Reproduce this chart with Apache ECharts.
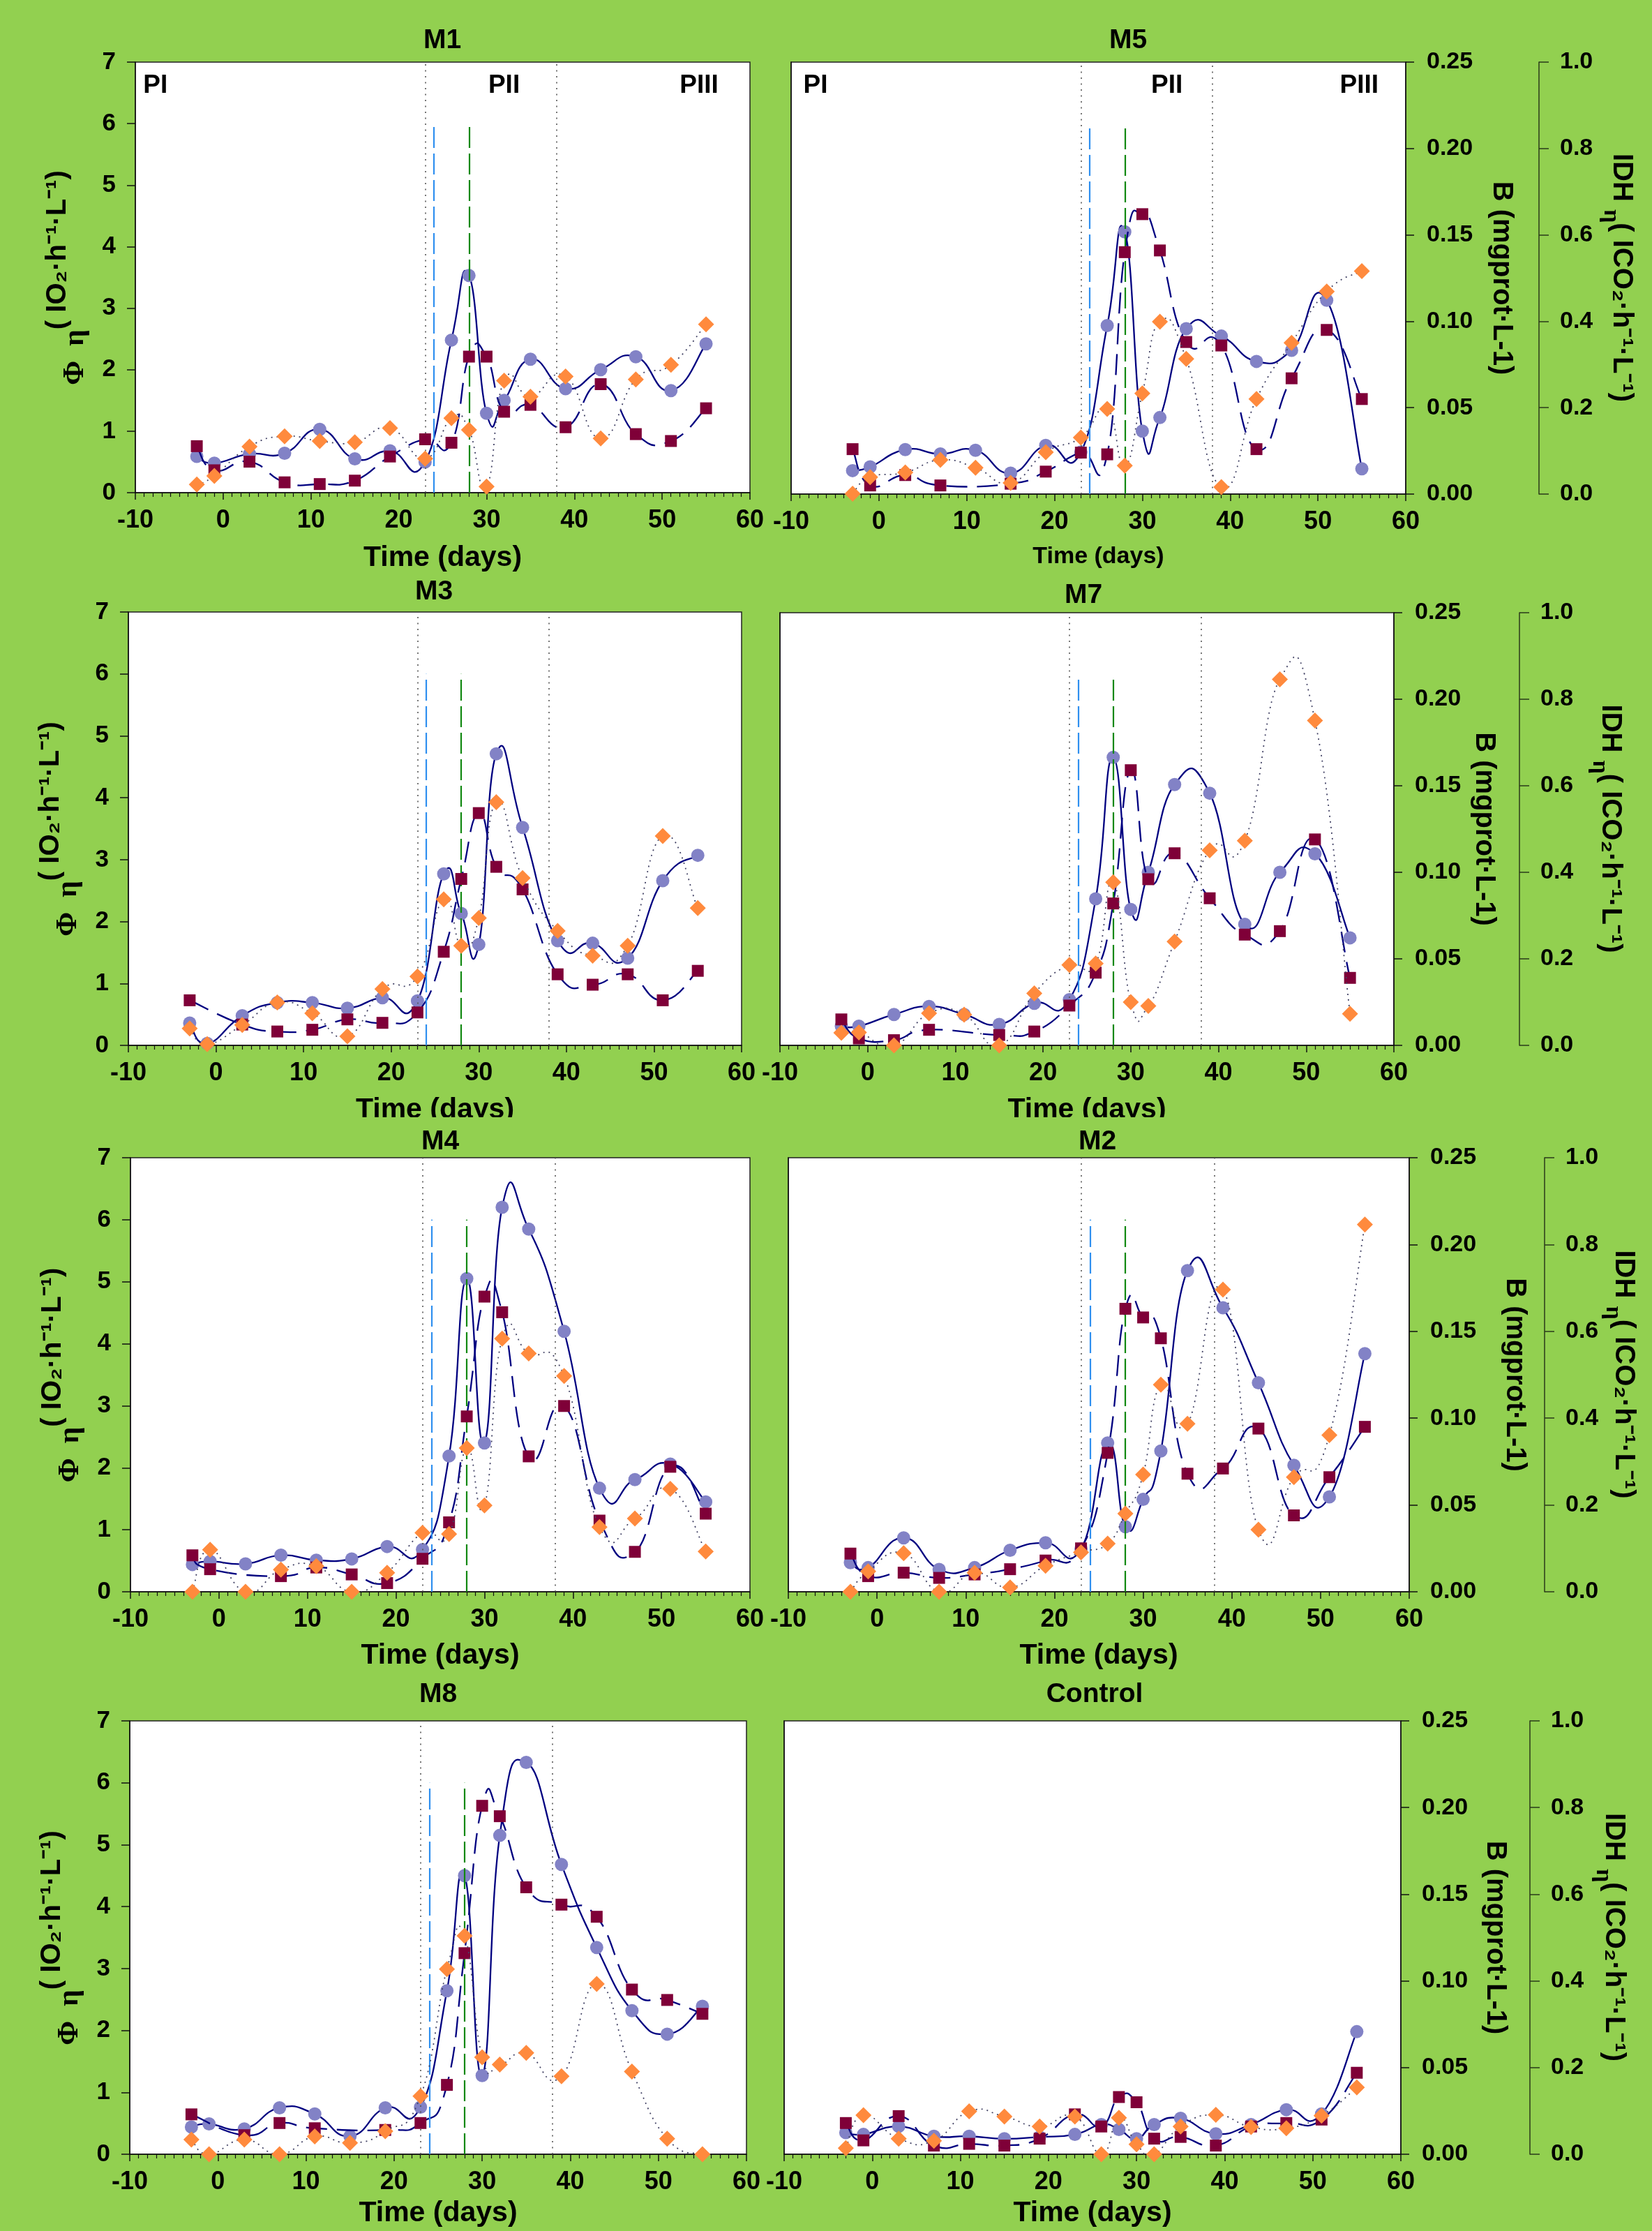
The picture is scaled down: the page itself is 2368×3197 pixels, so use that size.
<!DOCTYPE html>
<html><head><meta charset="utf-8">
<script src="https://cdn.jsdelivr.net/npm/echarts@6/dist/echarts.min.js"></script>
<style>html,body{margin:0;padding:0;background:#92D050;}#c{width:2368px;height:3197px;}</style>
</head><body><div id="c"></div>
<script>
// ---------- DATA ----------
const days = [-3,-1,3,7,11,15,19,23,26,28,30,32,35,39,43,47,51,55];
const xTickLabels = [-10,0,10,20,30,40,50,60];
const phaseBounds = [23, 38];
const eventLines = [24, 28];
const phaseNames = ['PI','PII','PIII'];

const phiM1 = [0.59,0.48,0.63,0.64,1.03,0.55,0.68,0.50,2.48,3.53,1.29,1.50,2.17,1.69,2.00,2.21,1.66,2.42];
const bM1   = [0.027,0.013,0.018,0.006,0.005,0.007,0.021,0.031,0.029,0.079,0.079,0.047,0.051,0.038,0.063,0.034,0.030,0.049];
const idhM1 = [0.019,0.039,0.107,0.131,0.120,0.117,0.150,0.079,0.173,0.146,0.014,0.260,0.223,0.270,0.126,0.263,0.297,0.391];

const phiM5 = [0.38,0.44,0.72,0.65,0.71,0.34,0.79,0.68,2.73,4.25,1.02,1.24,2.68,2.56,2.15,2.33,3.14,0.41];
const bM5   = [0.026,0.005,0.011,0.005,null,0.006,0.013,0.024,0.023,0.140,0.162,0.141,0.088,0.086,0.026,0.067,0.095,0.055];
const idhM5 = [0.001,0.039,0.050,0.079,0.061,0.026,0.097,0.131,0.197,0.066,0.233,0.399,0.313,0.016,0.220,0.350,0.469,0.516];

const phiM3 = [0.36,0.03,0.48,0.69,0.69,0.60,0.77,0.72,2.77,2.13,1.63,4.71,3.52,1.69,1.65,1.41,2.66,3.07];
const bM3   = [0.026,null,0.012,0.008,0.009,0.015,0.013,0.019,0.054,0.096,0.134,0.103,0.090,0.041,0.035,0.041,0.026,0.043];
const idhM3 = [0.039,0.003,0.047,0.099,0.074,0.021,0.130,0.159,0.337,0.230,0.294,0.561,0.386,0.264,0.207,0.230,0.483,0.317];

const phiM7 = [0.31,0.31,0.50,0.63,0.50,0.34,0.68,0.74,2.37,4.66,2.20,2.80,4.22,4.08,1.96,2.80,3.10,1.74];
const bM7   = [0.015,0.004,0.003,0.009,null,0.006,0.008,0.023,0.042,0.082,0.159,0.096,0.111,0.085,0.064,0.066,0.119,0.039];
const idhM7 = [0.029,0.030,0.000,0.074,0.071,0.000,0.120,0.186,0.189,0.377,0.100,0.091,0.240,0.451,0.473,0.846,0.751,0.073];

const phiM4 = [0.44,0.49,0.45,0.59,0.51,0.53,0.73,0.68,2.19,5.05,2.40,6.20,5.85,4.20,1.67,1.81,2.06,1.45];
const bM4   = [0.021,0.013,null,0.009,0.014,0.010,0.005,0.019,0.040,0.101,0.170,0.161,0.078,0.107,0.041,0.023,0.072,0.045];
const idhM4 = [0,0.097,0,0.051,0.059,0,0.044,0.136,0.133,0.331,0.199,0.583,0.549,0.497,0.149,0.169,0.237,0.093];

const phiM2 = [0.47,0.39,0.87,0.36,0.39,0.67,0.79,0.69,2.40,1.05,1.49,2.27,5.18,4.58,3.37,2.04,1.53,3.84];
const bM2   = [0.022,0.009,0.011,0.008,0.010,0.013,0.018,0.025,0.080,0.163,0.158,0.146,0.068,0.071,0.094,0.044,0.066,0.095];
const idhM2 = [0,0.047,0.089,0,0.044,0.010,0.060,0.091,0.111,0.180,0.270,0.477,0.387,0.696,0.143,0.264,0.361,0.846];

const phiM8 = [0.44,0.49,0.41,0.75,0.65,0.29,0.75,0.76,2.64,4.50,1.27,5.15,6.33,4.68,3.34,2.32,1.94,2.39];
const bM8   = [0.023,null,0.011,0.018,0.015,null,0.014,0.018,0.040,0.116,0.201,0.195,0.154,0.144,0.137,0.095,0.089,0.081];
const idhM8 = [0.034,0,0.034,0,0.041,0.026,0.053,0.134,0.427,0.504,0.224,0.207,0.234,0.180,0.393,0.191,0.036,0];

const phiCtl = [0.35,0.32,0.45,0.29,0.29,0.25,0.28,0.32,0.48,0.40,0.25,0.48,0.58,0.33,0.48,0.72,0.65,1.98];
const bCtl   = [0.018,0.008,0.022,0.005,0.006,0.005,0.009,0.023,0.016,0.033,0.030,0.009,0.010,0.005,0.016,0.018,0.020,0.047];
const idhCtl = [0.014,0.090,0.036,0.031,0.099,0.087,0.064,0.087,0,0.084,0.023,0,0.064,0.091,0.063,0.060,0.089,0.154];

// ---------- LAYOUT / STYLE ----------
const FONT = '"Liberation Sans", Arial, Helvetica, sans-serif';
const SERIF = '"Liberation Serif", "DejaVu Serif", serif';
const GREEN = '#92D050';
const TENSION = 0.25;   // Excel-like smoothing of the connecting curves

const panels = [
  {name:'M1', phi:phiM1, b:bM1, idh:idhM1, side:'L', l:194,  t:89,   w:881, h:617, tx:634,  ty:39,   xFs:41, xGap:73, yGap:65, vlines:true, phase:[-9.1,30.2,52.0]},
  {name:'M5', phi:phiM5, b:bM5, idh:idhM5, side:'R', l:1134, t:89,   w:881, h:619, tx:1617, ty:39,   xFs:34, xGap:73, bGap:117, idhOff:191, idhGap:86, vlines:true, phase:[-8.6,31.0,52.5]},
  {name:'M3', phi:phiM3, b:bM3, idh:idhM3, side:'L', l:184,  t:877,  w:879, h:621, tx:622,  ty:829,  xFs:41, xGap:72, yGap:65, vlines:true},
  {name:'M7', phi:phiM7, b:bM7, idh:idhM7, side:'R', l:1118, t:878,  w:880, h:620, tx:1553, ty:834,  xFs:41, xGap:72, bGap:109, idhOff:180, idhGap:98, vlines:true},
  {name:'M4', phi:phiM4, b:bM4, idh:idhM4, side:'L', l:187,  t:1659, w:888, h:622, tx:631,  ty:1617, xFs:41, xGap:71, yGap:65, vlines:true},
  {name:'M2', phi:phiM2, b:bM2, idh:idhM2, side:'R', l:1130, t:1659, w:890, h:622, tx:1573, ty:1617, xFs:41, xGap:71, bGap:131, idhOff:194, idhGap:72, vlines:true},
  {name:'M8', phi:phiM8, b:bM8, idh:idhM8, side:'L', l:186,  t:2466, w:884, h:621, tx:628,  ty:2409, xFs:41, xGap:64, yGap:65, vlines:true},
  {name:'Control', phi:phiCtl, b:bCtl, idh:idhCtl, side:'R', l:1124, t:2466, w:884, h:621, tx:1569, ty:2409, xFs:41, xGap:64, bGap:115, idhOff:185, idhGap:88, vlines:false}
];

const txt = (fs) => ({fontSize:fs, fontWeight:'bold', color:'#000', fontFamily:FONT});
const lineCol = '#111';

const PHI_NAME = '{lo|Φ  η}{m|( IO₂·h⁻¹·L⁻¹)}{sp| }';
const PHI_RICH = {
  lo:{fontSize:42, fontWeight:'bold', fontFamily:SERIF, color:'#000', lineHeight:42, verticalAlign:'bottom'},
  m:{fontSize:40, fontWeight:'bold', fontFamily:FONT, color:'#000', lineHeight:40, verticalAlign:'top'},
  sp:{fontSize:4, lineHeight:66}
};
const B_NAME = 'B (mgprot·L-1)';
const IDH_NAME = '{m|IDH }{lo|η}{m|( ICO₂·h⁻¹·L⁻¹)}{sp| }';
const IDH_RICH = {
  lo:{fontSize:34, fontWeight:'bold', fontFamily:SERIF, color:'#000', lineHeight:34, verticalAlign:'bottom'},
  m:{fontSize:40, fontWeight:'bold', fontFamily:FONT, color:'#000', lineHeight:40, verticalAlign:'top'},
  sp:{fontSize:4, lineHeight:52}
};

const grids=[], xAxes=[], yAxes=[], series=[], graphics=[];
const pts = (arr) => days.map((d,i)=>[d,arr[i]]).filter(p=>p[1]!==null && p[1]!==undefined);

// smooth curve through the data points, drawn through the axes' coordinate conversion
function curveSeries(data, xi, yi, z, style, markLine){
  const s = {type:'custom', xAxisIndex:xi, yAxisIndex:yi, z:z, silent:true, clip:true,
    data:data,
    renderItem:function(params, api){
      if(params.dataIndex!==0) return null;
      const P = data.map(p=>api.coord(p));
      let d = 'M'+P[0][0]+' '+P[0][1];
      for(let k=0;k<P.length-1;k++){
        const p0=P[k-1]||P[k], p1=P[k], p2=P[k+1], p3=P[k+2]||P[k+1];
        const c1x=p1[0]+(p2[0]-p0[0])*TENSION, c1y=p1[1]+(p2[1]-p0[1])*TENSION;
        const c2x=p2[0]-(p3[0]-p1[0])*TENSION, c2y=p2[1]-(p3[1]-p1[1])*TENSION;
        d += ' C'+c1x+' '+c1y+' '+c2x+' '+c2y+' '+p2[0]+' '+p2[1];
      }
      return {type:'path', shape:{pathData:d}, style:Object.assign({fill:null}, style)};
    }};
  if(markLine) s.markLine = markLine;
  return s;
}

panels.forEach((p,i)=>{
  const R = p.side==='R';
  grids.push({left:p.l, top:p.t, width:p.w, height:p.h, show:true, backgroundColor:'#fff',
    borderColor:'#222', borderWidth:1.5, containLabel:false});
  xAxes.push({gridIndex:i, type:'value', min:xTickLabels[0], max:xTickLabels[xTickLabels.length-1], interval:10,
    axisLine:{show:true, onZero:false, lineStyle:{color:lineCol, width:1.5}},
    axisTick:{show:true, length:10, lineStyle:{color:lineCol, width:1.5}},
    minorTick:{show:true, splitNumber:10, length:6, lineStyle:{color:lineCol, width:1.2}},
    splitLine:{show:false}, minorSplitLine:{show:false},
    axisLabel:Object.assign(txt(36), {margin:22}),
    name:'Time (days)', nameLocation:'middle', nameGap:p.xGap, nameTextStyle:txt(p.xFs)});
  yAxes.push({gridIndex:i, type:'value', min:0, max:7, interval:1, position:'left',
    axisLine:{show:true, onZero:false, lineStyle:{color:lineCol, width:1.5}},
    axisTick:{show:!R, length:12, lineStyle:{color:lineCol, width:1.5}},
    axisLabel:Object.assign(txt(35), {show:!R, margin:28}),
    splitLine:{show:false},
    name:R?'':PHI_NAME, nameLocation:'middle', nameRotate:90, nameGap:p.yGap||0,
    nameTextStyle:Object.assign(txt(40), {rich:PHI_RICH})});
  yAxes.push({gridIndex:i, type:'value', min:0, max:0.25, interval:0.05, position:'right', show:R,
    axisLine:{show:true, onZero:false, lineStyle:{color:lineCol, width:1.5}},
    axisTick:{show:true, length:12, lineStyle:{color:lineCol, width:1.5}},
    axisLabel:Object.assign(txt(34), {margin:30, formatter:v=>v.toFixed(2)}),
    splitLine:{show:false},
    name:B_NAME, nameLocation:'middle', nameRotate:-90, nameGap:p.bGap||0, nameTextStyle:txt(40)});
  yAxes.push({gridIndex:i, type:'value', min:0, max:1, interval:0.2, position:'right', offset:p.idhOff||0, show:R,
    axisLine:{show:true, onZero:false, lineStyle:{color:'#2a3a1a', width:1.5}},
    axisTick:{show:true, length:14, lineStyle:{color:'#2a3a1a', width:1.5}},
    axisLabel:Object.assign(txt(34), {margin:30, formatter:v=>v.toFixed(1)}),
    splitLine:{show:false},
    name:IDH_NAME, nameLocation:'middle', nameRotate:-90, nameGap:p.idhGap||0,
    nameTextStyle:Object.assign(txt(40), {rich:IDH_RICH})});

  const vl = (x, top, style) => [{coord:[x,0], lineStyle:style}, {coord:[x,top]}];
  const ml = p.vlines ? {silent:true, symbol:['none','none'], label:{show:false}, animation:false, emphasis:{disabled:true},
      data:[
        vl(phaseBounds[0], 7, {color:'#555', type:[2,6.5], width:1.6}),
        vl(phaseBounds[1], 7, {color:'#555', type:[2,6.5], width:1.6}),
        vl(eventLines[0], 6, {color:'#2F8FEF', type:[30,8], width:2.2}),
        vl(eventLines[1], 6, {color:'#118811', type:[30,8], width:2.2})
      ]} : null;

  const dPhi = pts(p.phi), dB = pts(p.b), dI = pts(p.idh);
  series.push(curveSeries(dPhi, i, i*3, 2, {stroke:'#000080', lineWidth:2.3}, ml));
  series.push({type:'scatter', xAxisIndex:i, yAxisIndex:i*3, data:dPhi, z:3, silent:true,
    symbol:'circle', symbolSize:19, itemStyle:{color:'#8282C6', opacity:1}});
  series.push(curveSeries(dB, i, i*3+1, 4, {stroke:'#000080', lineWidth:2.3, lineDash:[30,14]}));
  series.push({type:'scatter', xAxisIndex:i, yAxisIndex:i*3+1, data:dB, z:5, silent:true,
    symbol:'rect', symbolSize:17, itemStyle:{color:'#7F0038', opacity:1}});
  series.push(curveSeries(dI, i, i*3+2, 6, {stroke:'#444466', lineWidth:1.8, lineDash:[2,6]}));
  series.push({type:'scatter', xAxisIndex:i, yAxisIndex:i*3+2, data:dI, z:7, silent:true,
    symbol:'diamond', symbolSize:[23,23], itemStyle:{color:'#FF8A3D', opacity:1}});

  graphics.push({type:'text', x:p.tx, y:p.ty, z:50,
    style:{text:p.name, fill:'#000', font:'bold 39px '+FONT, textAlign:'center', textVerticalAlign:'top'}});
});

// the row-2 x-axis names are cut off in the original figure
graphics.push({type:'rect', shape:{x:300, y:1601, width:700, height:17}, style:{fill:GREEN}, z:60});
graphics.push({type:'rect', shape:{x:1250, y:1601, width:700, height:17}, style:{fill:GREEN}, z:60});

const chart = echarts.init(document.getElementById('c'), null, {renderer:'canvas'});
chart.setOption({backgroundColor:GREEN, animation:false, grid:grids, xAxis:xAxes, yAxis:yAxes, series:series, graphic:graphics});

// phase labels placed through the axes
panels.forEach((p,i)=>{
  if(!p.phase) return;
  p.phase.forEach((x,k)=>{
    const px = chart.convertToPixel({xAxisIndex:i, yAxisIndex:i*3}, [x, 6.83]);
    graphics.push({type:'text', x:px[0], y:px[1], z:50,
      style:{text:phaseNames[k], fill:'#000', font:'bold 37px '+FONT, textAlign:'left', textVerticalAlign:'top'}});
  });
});
chart.setOption({graphic:graphics});
</script></body></html>
